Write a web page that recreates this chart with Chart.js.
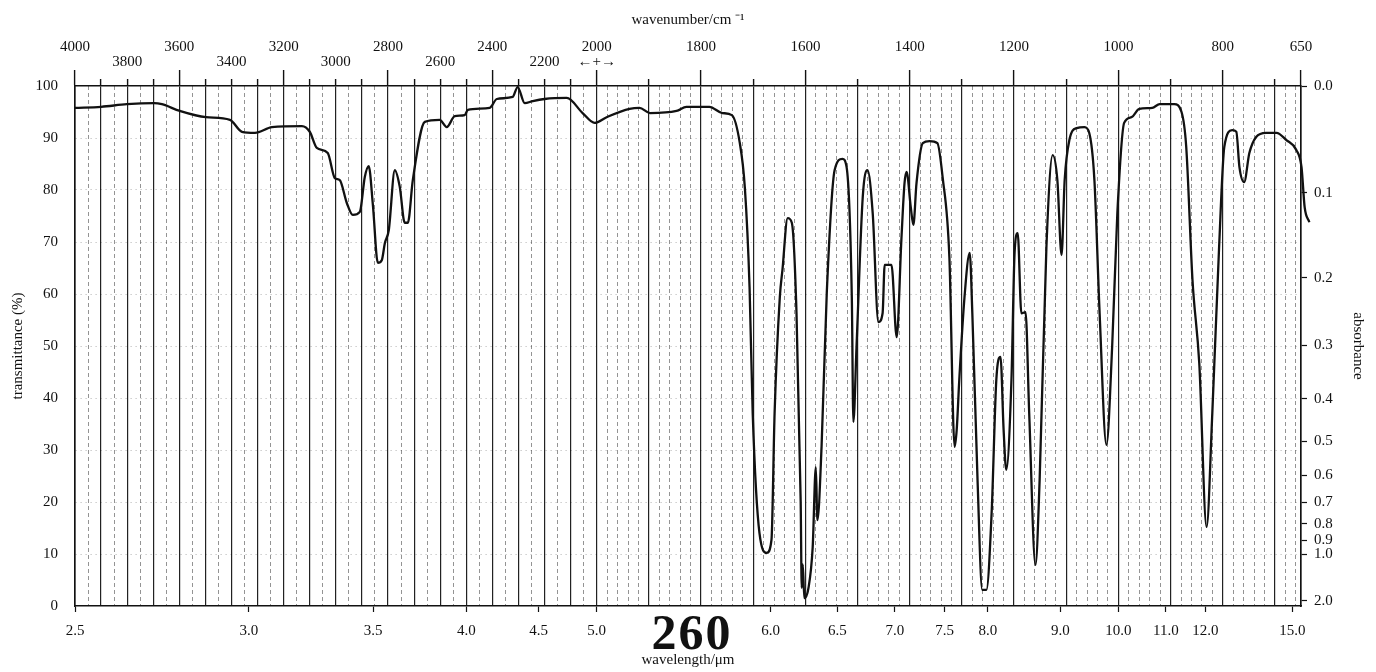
<!DOCTYPE html>
<html>
<head>
<meta charset="utf-8">
<title>IR spectrum 260</title>
<script src="https://cdn.jsdelivr.net/npm/chart.js@4.4.1/dist/chart.umd.min.js"></script>
<style>
  html, body { margin: 0; padding: 0; background: #fff; }
  #wrap { position: relative; width: 1376px; height: 672px; }
  #page {
    position: absolute; left: 692px; top: 632px; transform: translate(-50%, -50%);
    font: bold 50px 'Liberation Serif', 'Times New Roman', serif; letter-spacing: 2px; color: #111;
  }
</style>
</head>
<body>
<div id="wrap">
  <canvas id="ir" width="1376" height="672"></canvas>
  <div id="page">260</div>
</div>
<script>
// spectrum: wavenumber (cm-1) and transmittance (%)
const wavenumbers = [
  4000, 3900, 3801, 3697, 3667, 3598, 3498, 3406, 3360, 3310, 3245, 3130, 3100, 3073, 3031,
  3004, 2985, 2958, 2935, 2908, 2889, 2874, 2858, 2839, 2824, 2812, 2797, 2774, 2755, 2736,
  2724, 2705, 2659, 2602, 2575, 2544, 2506, 2494, 2410, 2383, 2322, 2303, 2276, 2245, 2200,
  2115, 2054, 2008, 1981, 1937, 1918, 1898, 1847, 1828, 1784, 1759, 1741, 1726, 1716, 1707,
  1701, 1688, 1674, 1665, 1659, 1649, 1644, 1634, 1626, 1617, 1609, 1607, 1605, 1602, 1594,
  1586, 1580, 1577, 1569, 1559, 1544, 1529, 1521, 1511, 1508, 1502, 1490, 1481, 1471, 1460,
  1452, 1448, 1435, 1425, 1416, 1410, 1406, 1398, 1393, 1387, 1375, 1362, 1347, 1337, 1324,
  1314, 1310, 1305, 1295, 1285, 1280, 1270, 1261, 1253, 1243, 1234, 1226, 1220, 1215, 1205,
  1199, 1193, 1186, 1178, 1171, 1159, 1151, 1138, 1126, 1117, 1109, 1103, 1094, 1080, 1065,
  1056, 1046, 1036, 1023, 1012, 1002, 989, 975, 960, 935, 921, 893, 879, 870, 858,
  845, 831, 820, 807, 797, 782, 774, 768, 759, 749, 736, 717, 697, 678, 659,
  649, 643, 634
];
const transmittance = [
  95.8, 96.0, 96.5, 96.7, 96.5, 95.2, 94.0, 93.5, 91.2, 91.0, 92.1, 92.3, 91.2, 88.1, 87.1,
  82.3, 81.9, 77.5, 75.2, 75.8, 82.5, 84.6, 77.1, 66.0, 66.5, 69.8, 72.3, 83.8, 80.6, 73.7,
  73.7, 81.9, 93.1, 93.5, 92.1, 94.2, 94.4, 95.4, 95.8, 97.5, 97.9, 99.8, 96.7, 97.1, 97.5,
  97.7, 94.8, 92.9, 94.0, 95.6, 95.8, 94.8, 95.2, 96.0, 96.0, 94.8, 94.4, 89.2, 80.4, 61.3,
  37.1, 14.0, 10.2, 12.7, 37.1, 59.4, 64.6, 74.6, 73.7, 56.3, 20.0, 3.5, 8.0, 1.5, 3.5,
  11.3, 26.7, 16.5, 30.6, 60.2, 83.8, 86.0, 84.4, 59.4, 35.4, 49.8, 78.7, 83.8, 75.6, 54.6,
  56.3, 65.6, 65.6, 51.7, 70.4, 81.3, 83.5, 76.7, 73.3, 81.3, 89.0, 89.4, 89.0, 82.5, 67.1,
  30.6, 33.8, 43.5, 59.4, 67.9, 56.3, 24.2, 3.1, 3.1, 17.9, 43.5, 47.9, 33.8, 26.2, 43.5,
  67.9, 71.7, 56.3, 56.5, 37.1, 7.9, 24.2, 69.0, 86.7, 81.9, 67.5, 81.9, 89.6, 91.9, 92.1,
  91.0, 81.9, 56.3, 31.0, 49.8, 75.6, 92.9, 94.0, 95.6, 95.8, 96.5, 96.5, 95.0, 88.3, 62.7,
  46.7, 15.2, 37.1, 69.0, 88.3, 91.5, 91.2, 84.4, 81.5, 87.1, 90.2, 91.0, 91.0, 89.6, 87.7,
  84.4, 76.7, 73.8
];

const wavelengthTicks = [2.5, 3.0, 3.5, 4.0, 4.5, 5.0, 6.0, 6.5, 7.0, 7.5, 8.0, 9.0, 10.0, 11.0, 12.0, 15.0];
const wavenumberUpper = [4000, 3600, 3200, 2800, 2400, 2000, 1800, 1600, 1400, 1200, 1000, 800, 650];
const wavenumberLower = [3800, 3400, 3000, 2600, 2200];
const transmittanceTicks = [0, 10, 20, 30, 40, 50, 60, 70, 80, 90, 100];
const absorbanceTicks = [0.0, 0.1, 0.2, 0.3, 0.4, 0.5, 0.6, 0.7, 0.8, 0.9, 1.0, 2.0];

// chart paper grid: solid every 100 cm-1, dashed every 50 above 2000 and every 20 below
const solidLines = [];
const dashedLines = [];
for (let v = 4000; v >= 2000; v -= 50) (v % 100 ? dashedLines : solidLines).push(v);
for (let v = 1980; v >= 660; v -= 20) if (v % 100) dashedLines.push(v);
for (let v = 1900; v >= 700; v -= 100) solidLines.push(v);
solidLines.push(650);

// paper is printed at half the scale above 2000 cm-1
const paperPos = (wn) => (wn >= 2000 ? (4000 - wn) / 2 : 1000 + (2000 - wn)) / 2350;
const paperWn = (f) => {
  const u = f * 2350;
  return u <= 1000 ? 4000 - 2 * u : 2000 - (u - 1000);
};

class WavenumberScale extends Chart.LinearScale {
  getPixelForValue(value) {
    return this.getPixelForDecimal(paperPos(value));
  }
  getValueForPixel(pixel) {
    return paperWn(this.getDecimalForPixel(pixel));
  }
}
WavenumberScale.id = 'wavenumber';
WavenumberScale.defaults = {};
Chart.register(WavenumberScale);

const ink = '#111';
const serif = "'Liberation Serif', 'Times New Roman', serif";
const tickFont = { family: serif, size: 15, lineHeight: 1.0 };
const titleFont = { family: serif, size: 15 };
const fixSize = (size) => (scale) => {
  if (scale.isHorizontal()) scale.height = size;
  else scale.width = size;
};
const setTicks = (values) => (scale) => {
  scale.ticks = values.map((v) => ({ value: v }));
};
const isLongTick = (v) => (v >= 2000 ? (4000 - v) % 400 === 0 : v % 200 === 0 || v === 650);

new Chart(document.getElementById('ir'), {
  type: 'line',
  data: {
    datasets: [{
      data: wavenumbers.map((wn, i) => ({ x: wn, y: transmittance[i] })),
      borderColor: ink,
      borderWidth: 2.3,
      pointRadius: 0,
      cubicInterpolationMode: 'monotone',
      clip: false,
      xAxisID: 'x',
      yAxisID: 'y',
    }],
  },
  options: {
    responsive: false,
    animation: false,
    devicePixelRatio: 1,
    layout: { padding: 0 },
    plugins: {
      legend: { display: false },
      tooltip: { enabled: false },
    },
    scales: {
      x: {
        type: 'wavenumber',
        position: 'bottom',
        min: 650,
        max: 4000,
        afterBuildTicks: setTicks(wavelengthTicks.map((l) => 1e4 / l)),
        afterFit: fixSize(66),
        ticks: {
          autoSkip: false, maxRotation: 0, minRotation: 0, padding: 12,
          color: ink, font: tickFont,
          callback: (v, i) => wavelengthTicks[i].toFixed(1),
        },
        grid: { drawOnChartArea: false, tickLength: 6, tickColor: ink, tickWidth: 1.2 },
        border: { color: ink, width: 1.6 },
        title: { display: true, text: 'wavelength/μm', color: ink, font: titleFont, padding: { top: 0, bottom: 3 } },
      },
      xTop: {
        type: 'wavenumber',
        position: 'top',
        min: 650,
        max: 4000,
        afterBuildTicks: setTicks(solidLines),
        afterFit: fixSize(86),
        ticks: {
          autoSkip: false, maxRotation: 0, minRotation: 0, padding: 0,
          color: ink, font: tickFont,
          callback: (v) => {
            if (wavenumberUpper.includes(v)) return [String(v), v === 2000 ? '←+→' : ''];
            if (wavenumberLower.includes(v)) return ['', String(v)];
            return '';
          },
        },
        grid: {
          color: '#222', lineWidth: 1.2,
          tickLength: 16, tickColor: ink, tickWidth: 1.4,
          tickBorderDash: (ctx) => (isLongTick(ctx.tick.value) ? [] : [0, 9, 7, 40]),
        },
        border: { color: ink, width: 1.6 },
        title: { display: true, text: 'wavenumber/cm ⁻¹', color: ink, font: titleFont, padding: { top: 11, bottom: 0 } },
      },
      xMinor: {
        type: 'wavenumber',
        position: 'top',
        min: 650,
        max: 4000,
        afterBuildTicks: setTicks(dashedLines),
        afterFit: fixSize(0),
        ticks: { display: false },
        grid: { color: 'rgba(0,0,0,0.42)', lineWidth: 1, drawTicks: false },
        border: { display: false, dash: [4, 3] },
      },
      y: {
        position: 'left',
        min: 0,
        max: 100,
        afterBuildTicks: setTicks(transmittanceTicks),
        afterFit: fixSize(75),
        ticks: { autoSkip: false, padding: 17, color: ink, font: { family: serif, size: 15 } },
        grid: {
          drawTicks: false,
          color: (ctx) => (ctx.tick.value % 100 === 0 ? 'rgba(0,0,0,0)' : 'rgba(0,0,0,0.3)'),
          lineWidth: 1,
        },
        border: { color: ink, width: 1.6, dash: [1, 4] },
        title: { display: true, text: 'transmittance (%)', color: ink, font: titleFont, padding: { top: 9, bottom: 0 } },
      },
      yAbs: {
        position: 'right',
        min: 0,
        max: 100,
        afterBuildTicks: setTicks(absorbanceTicks.map((a) => 100 * Math.pow(10, -a))),
        afterFit: fixSize(75),
        ticks: {
          autoSkip: false, padding: 7, color: ink, font: tickFont,
          callback: (v, i) => absorbanceTicks[i].toFixed(1),
        },
        grid: { drawOnChartArea: false, tickLength: 6, tickColor: ink, tickWidth: 1.2 },
        border: { color: ink, width: 1.6 },
        title: { display: true, text: 'absorbance', color: ink, font: titleFont, padding: { top: 9, bottom: 0 } },
      },
    },
  },
});
</script>
</body>
</html>
